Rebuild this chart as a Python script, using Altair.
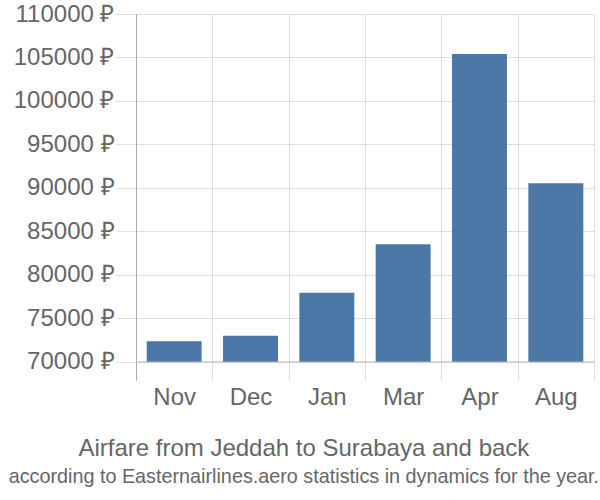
import altair as alt
import pandas as pd

months = ["Nov", "Dec", "Jan", "Mar", "Apr", "Aug"]
prices = [72380, 73020, 77970, 83530, 105400, 90540]
y_ticks = [70000, 75000, 80000, 85000, 90000, 95000, 100000, 105000, 110000]
baseline = [70000]

df = pd.DataFrame({"month": months, "price": prices})
base_df = pd.DataFrame({"v": baseline})

x = alt.X(
    "month:N",
    sort=months,
    scale=alt.Scale(paddingInner=0, paddingOuter=0),
    axis=alt.Axis(
        title=None,
        ticks=False,
        domain=False,
        grid=True,
        gridColor="#dddddd",
        gridWidth=1,
        tickBand="extent",
        labelAngle=0,
        labelFont="Liberation Sans",
        labelFontSize=24,
        labelColor="#666666",
        labelPadding=5,
    ),
)
y_scale = alt.Scale(domain=[67931, 110000], nice=False, zero=False)

bars = alt.Chart(df).mark_bar(color="#4c78a8", width=alt.RelativeBandSize(0.72)).encode(
    x=x,
    y=alt.Y(
        "price:Q",
        scale=y_scale,
        axis=alt.Axis(
            title=None,
            values=y_ticks,
            labelExpr="format(datum.value, 'd') + ' ₽'",
            tickSize=20,
            tickColor="#dddddd",
            domainColor="#aaaaaa",
            gridColor="#dddddd",
            labelFont="Liberation Sans",
            labelFontSize=24,
            labelColor="#666666",
            labelPadding=2,
        ),
    ),
    y2=alt.datum(70000),
)

rule = alt.Chart(base_df).mark_rule(color="#bbbbbb", strokeWidth=1).encode(
    y=alt.Y("v:Q", scale=y_scale),
)

chart = (
    alt.layer(bars, rule)
    .properties(
        width=458,
        height=366,
        padding={"left": 136, "top": 14, "right": 6, "bottom": 120},
        autosize=alt.AutoSizeParams(type="none"),
        title=alt.TitleParams(
            text="Airfare from Jeddah to Surabaya and back",
            subtitle="according to Easternairlines.aero statistics in dynamics for the year.",
            orient="bottom",
            anchor="middle",
            frame="bounds",
            font="Liberation Sans",
            fontSize=24,
            fontWeight="normal",
            color="#666666",
            subtitleFont="Liberation Sans",
            subtitleFontSize=19.8,
            subtitleColor="#666666",
            subtitlePadding=6,
            offset=28,
        ),
    )
    .configure_view(stroke=None)
)

chart.save("out.html", embed_options={"renderer": "svg", "actions": False})
